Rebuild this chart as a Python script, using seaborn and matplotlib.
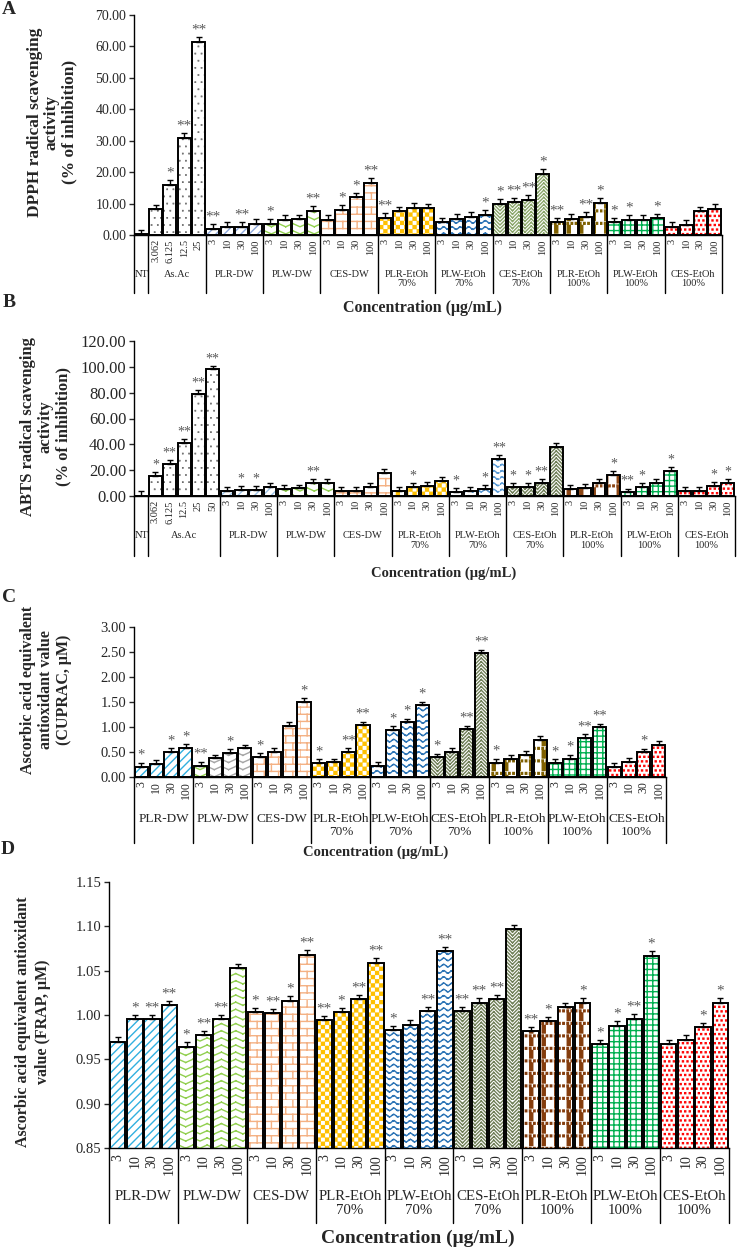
import warnings
warnings.filterwarnings("ignore")
import numpy as np
import pandas as pd
import matplotlib
matplotlib.use("Agg")
import matplotlib.pyplot as plt
import matplotlib.hatch as mhatch
import matplotlib.transforms as mtrans
from matplotlib.path import Path
from matplotlib.patches import Rectangle
import seaborn as sns

# ------------------------------------------------------------------ data
conc = ["3", "10", "30", "100"]
extracts = ["PLR-DW", "PLW-DW", "CES-DW", "PLR-EtOh\n70%", "PLW-EtOh\n70%",
            "CES-EtOh\n70%", "PLR-EtOh\n100%", "PLW-EtOh\n100%", "CES-EtOh\n100%"]
asac_conc_A = ["3.062", "6.125", "12.5", "25"]
asac_conc_B = ["3.062", "6.125", "12.5", "25", "50"]

# Panel A : DPPH (% inhibition)
dpph_nt = [0.2]
dpph_nt_err = [1.4]
dpph_asac = [8.2, 15.9, 31.0, 61.3]
dpph_asac_err = [1.5, 1.5, 1.5, 1.6]
dpph_ext = [1.8, 2.4, 2.4, 3.4,
            3.4, 4.8, 5.0, 7.7,
            4.8, 8.0, 12.0, 16.6,
            5.5, 7.5, 8.6, 8.6,
            4.1, 5.2, 5.8, 6.3,
            9.9, 10.4, 11.0, 19.5,
            4.0, 5.0, 5.8, 10.2,
            4.0, 4.8, 4.8, 5.3,
            2.7, 3.3, 7.5, 8.4]
dpph_ext_err = [1.6, 1.6, 1.6, 1.7,
                1.6, 1.6, 1.5, 1.6,
                1.5, 1.5, 1.5, 1.4,
                1.4, 1.4, 1.5, 1.4,
                1.4, 1.4, 1.4, 1.5,
                1.5, 1.4, 1.6, 1.4,
                1.5, 1.6, 1.5, 1.6,
                1.5, 1.5, 1.6, 1.5,
                1.4, 1.5, 1.5, 1.5]
dpph_stars = ([""] + ["", "*", "**", "**"] +
              ["**", "", "**", ""] + ["*", "", "", "**"] + ["", "*", "*", "**"] +
              ["**", "", "", ""] + ["", "", "", "*"] + ["*", "**", "**", "*"] +
              ["**", "", "**", "*"] + ["*", "*", "", "*"] + ["", "", "", ""])

# Panel B : ABTS (% inhibition)
abts_nt = [0.3]
abts_nt_err = [3.2]
abts_asac = [15.5, 24.5, 41.3, 79.2, 98.1]
abts_asac_err = [3.3, 3.2, 3.0, 2.9, 2.8]
abts_ext = [4.1, 4.9, 4.9, 7.2,
            5.7, 5.9, 9.8, 10.3,
            3.6, 4.1, 7.2, 18.1,
            3.6, 6.7, 8.0, 11.6,
            3.1, 3.6, 5.7, 28.4,
            6.7, 6.7, 10.1, 37.7,
            5.7, 6.5, 9.8, 16.0,
            2.8, 7.0, 9.8, 19.4,
            3.6, 4.1, 8.0, 10.1]
abts_ext_err = [3.0] * 36
abts_stars = ([""] + ["*", "**", "**", "**", "**"] +
              ["", "*", "*", ""] + ["", "", "**", ""] + ["", "", "", ""] +
              ["", "*", "", ""] + ["*", "", "*", "**"] + ["*", "*", "**", ""] +
              ["", "", "", "*"] + ["**", "*", "", "*"] + ["", "", "*", "*"])

# Panel C : CUPRAC (uM)
cuprac = [0.21, 0.27, 0.51, 0.59,
          0.23, 0.38, 0.48, 0.58,
          0.40, 0.51, 1.03, 1.51,
          0.28, 0.30, 0.51, 1.04,
          0.23, 0.95, 1.10, 1.44,
          0.40, 0.51, 0.96, 2.48,
          0.29, 0.37, 0.45, 0.75,
          0.29, 0.37, 0.79, 1.00,
          0.21, 0.31, 0.50, 0.65]
cuprac_err = [0.08, 0.08, 0.07, 0.07,
              0.08, 0.07, 0.08, 0.07,
              0.08, 0.07, 0.07, 0.07,
              0.08, 0.07, 0.07, 0.07,
              0.07, 0.07, 0.07, 0.07,
              0.07, 0.07, 0.07, 0.07,
              0.08, 0.07, 0.07, 0.07,
              0.07, 0.08, 0.07, 0.07,
              0.07, 0.07, 0.07, 0.07]
cuprac_stars = (["*", "", "*", "*"] + ["**", "", "*", ""] + ["*", "", "", "*"] +
                ["*", "", "**", "**"] + ["", "*", "*", "*"] + ["*", "", "**", "**"] +
                ["*", "", "", ""] + ["*", "*", "**", "**"] + ["", "", "*", ""])

# Panel D : FRAP (uM)
frap = [0.970, 0.995, 0.995, 1.011,
        0.964, 0.977, 0.995, 1.053,
        1.003, 1.002, 1.016, 1.068,
        0.994, 1.003, 1.018, 1.059,
        0.983, 0.989, 1.004, 1.072,
        1.004, 1.014, 1.018, 1.097,
        0.982, 0.993, 1.009, 1.014,
        0.967, 0.988, 0.996, 1.067,
        0.967, 0.972, 0.986, 1.014]
frap_err = [0.005] * 36
frap_stars = (["", "*", "**", "**"] + ["*", "**", "**", ""] + ["*", "**", "*", "**"] +
              ["**", "*", "**", "**"] + ["*", "", "**", "**"] + ["**", "**", "**", ""] +
              ["**", "*", "", "*"] + ["*", "*", "**", "*"] + ["", "", "*", "*"])

# ------------------------------------------------------------------ style
sns.set_style("ticks")
plt.rcParams["font.family"] = ["Liberation Serif", "DejaVu Serif"]
plt.rcParams["hatch.linewidth"] = 1.0
plt.rcParams["axes.linewidth"] = 1.0


# custom hatch patterns (unit tile = 1 inch)
def _seg(x0, y0, x1, y1):
    return (np.array([[x0, y0], [x1, y1]], float), False)


def _rect(x0, y0, x1, y1):
    return (np.array([[x0, y0], [x1, y0], [x1, y1], [x0, y1]], float), True)


def _zigzag():
    out, n = [], 14
    a = 0.45 / n
    for r in range(n):
        y = (r + 0.25) / n
        for k in range(n):
            y0 = y + (a if k % 2 else 0)
            y1 = y + (0 if k % 2 else a)
            out.append(_seg(k / n, y0, (k + 1) / n, y1))
    return out


def _brick():
    out, n = [], 14
    for r in range(n):
        y0, y1 = r / n, (r + 1) / n
        out.append(_seg(0, y0, 1, y0))
        for j in range(7):
            x = (j + 0.5 * (r % 2)) / 7
            out.append(_seg(x, y0, x, y1))
    return out


def _checker():
    n, d = 24, 0.006
    return [_rect(i / n + d, j / n + d, (i + 1) / n - d, (j + 1) / n - d)
            for i in range(n) for j in range(n) if (i + j) % 2 == 0]


def _waves():
    out = []
    rows, per, amp, m = 16, 12, 0.012, 8
    xs = np.linspace(0, 1, per * m + 1)
    for r in range(rows):
        ys = (r + 0.5) / rows + amp * np.sin(2 * np.pi * per * xs)
        for k in range(len(xs) - 1):
            if k % 4 != 3:
                out.append(_seg(xs[k], ys[k], xs[k + 1], ys[k + 1]))
    return out


def _herring():
    out = []
    cols, s = 16, 1 / 28
    w = 1 / cols
    for c in range(cols):
        x0 = c * w
        for k in range(-2, 28):
            y = k * s
            if c % 2 == 0:
                out.append(_seg(x0, y, x0 + w, y + w))
            else:
                out.append(_seg(x0, y + w, x0 + w, y))
    return out


def _plaid():
    out, n = [], 8
    c = 1 / n
    for i in range(n):
        for j in range(n):
            x0, y0 = i * c, j * c
            out.append(_rect(x0 + 0.38 * c, y0 + 0.36 * c, x0 + 0.62 * c, y0 + 0.96 * c))
            for q in range(3):
                out.append(_rect(x0 + (2 * q + 0.15) * c / 6, y0 + 0.06 * c,
                                 x0 + (2 * q + 0.85) * c / 6, y0 + 0.2 * c))
    return out


def _dots(n, m, s):
    out = []
    for j in range(m):
        for i in range(n):
            x = (i + 0.5 * (j % 2) + 0.25) / n
            y = (j + 0.5) / m
            out.append(_rect(x - s, y - s, x + s, y + s))
    return out


_BUILDERS = {"z": _zigzag, "k": _brick, "c": _checker, "w": _waves,
             "h": _herring, "p": _plaid,
             "r": lambda: _dots(22, 22, 0.005),
             "d": lambda: _dots(16, 14, 0.0015)}
_CACHE = {}


class _CustomHatch(mhatch.HatchPatternBase):
    def __init__(self, hatch, density):
        self.segs = []
        for ch, fn in _BUILDERS.items():
            if ch in hatch:
                if ch not in _CACHE:
                    _CACHE[ch] = fn()
                self.segs.extend(_CACHE[ch])
        self.num_vertices = sum(len(v) + (1 if cl else 0) for v, cl in self.segs)

    def set_vertices_and_codes(self, vertices, codes):
        i = 0
        for v, closed in self.segs:
            n = len(v)
            vertices[i:i + n] = v
            codes[i] = Path.MOVETO
            codes[i + 1:i + n] = Path.LINETO
            i += n
            if closed:
                vertices[i] = v[0]
                codes[i] = Path.CLOSEPOLY
                i += 1


mhatch._hatch_types.append(_CustomHatch)

PATTERNS = ["////", "z", "k", "c", "w", "h", "p", "+++", "r"]
COLORS_A = ["#8EA9DB", "#92D050", "#F4B183", "#FFC000", "#2E75B6",
            "#8AA66A", "#7F6000", "#00B050", "#FF0000"]
COLORS_B = ["#9DC3E6", "#92D050", "#F4B183", "#FFC000", "#5B9BD5",
            "#6F7F57", "#8B4513", "#00B050", "#FF0000"]
COLORS_C = ["#31B0E0", "#A6A6A6", "#F4B183", "#FFC000", "#2E75B6",
            "#6F7F57", "#7F6000", "#00B050", "#FF0000"]
COLORS_D = ["#31B0E0", "#92D050", "#F4B183", "#FFC000", "#2E75B6",
            "#6F7F57", "#843C0C", "#00B050", "#FF0000"]


def ext_styles(colors):
    st = []
    for col, pat in zip(colors, PATTERNS):
        st += [("white", pat, col)] * 4
    return st


FW, FH = 738, 1250
fig = plt.figure(figsize=(FW / 100, FH / 100), dpi=100)


def add_ax(left, top, right, bottom):
    return fig.add_axes([left / FW, 1 - bottom / FH, (right - left) / FW, (bottom - top) / FH])


def draw_panel(ax, bar_labels, values, errs, stars, styles, groups, ylim, yticks,
               ytick_fs, xtick_fs, xtick_pad, cat_fs, cat_off, cat_ls, sep_len, star_fs):
    ids = [f"b{i}" for i in range(len(values))]
    df = pd.DataFrame({"bar": ids, "value": values})
    sns.barplot(data=df, x="bar", y="value", order=ids, color="white", width=0.9,
                saturation=1, errorbar=None, ax=ax)
    bars = list(ax.patches)
    centers = [b.get_x() + b.get_width() / 2 for b in bars]
    for b, (face, hatch, hcol) in zip(bars, styles):
        b.set_facecolor(face)
        b.set_edgecolor(hcol)
        b.set_linewidth(0)
        b.set_hatch(hatch)
        ax.add_patch(Rectangle(b.get_xy(), b.get_width(), b.get_height(), fill=False,
                               ec="black", lw=1.4, zorder=b.get_zorder() + 0.5))
    ax.errorbar(centers, values, yerr=[np.zeros(len(errs)), errs], fmt="none",
                ecolor="black", elinewidth=1.0, capsize=2.5, capthick=1.0, zorder=3)
    for c, v, e, s in zip(centers, values, errs, stars):
        if s:
            ax.annotate(s, (c, v + e), xytext=(0, 2.5), textcoords="offset points",
                        ha="center", va="baseline", fontsize=star_fs, color="#595959")
    n = len(values)
    ax.set_xlim(-0.5, n - 0.5)
    ax.set_ylim(*ylim)
    ax.set_yticks(yticks)
    ax.set_yticklabels([f"{t:.2f}" for t in yticks], fontsize=ytick_fs)
    ax.set_xticks(centers)
    ax.set_xticklabels(bar_labels, rotation=90, fontsize=xtick_fs)
    ax.tick_params(axis="x", length=0, pad=xtick_pad)
    ax.tick_params(axis="y", length=3.5, width=1.0, direction="out", pad=2)
    ax.set_xlabel("")
    ax.set_ylabel("")
    sns.despine(ax=ax)
    for sp in ("left", "bottom"):
        ax.spines[sp].set_color("black")
    trans = mtrans.blended_transform_factory(ax.transData, ax.transAxes)
    h_px = ax.get_position().height * FH
    start = 0
    bounds = [-0.5]
    for name, cnt in groups:
        mid = start + (cnt - 1) / 2
        ax.text(mid, -cat_off / h_px, name, transform=trans, ha="center", va="top",
                fontsize=cat_fs, linespacing=cat_ls, multialignment="center")
        start += cnt
        bounds.append(start - 0.5)
    for bx in bounds:
        ax.plot([bx, bx], [0, -sep_len / h_px], transform=trans, color="black",
                lw=1.0, clip_on=False)


ext_groups = [(e, 4) for e in extracts]
ext_ticks = conc * 9

# Panel A
axA = add_ax(134, 15, 722, 235)
stylesA = [("white", None, "black")] + [("white", "d", "#505050")] * 4 + ext_styles(COLORS_A)
draw_panel(axA, [""] + asac_conc_A + ext_ticks, dpph_nt + dpph_asac + dpph_ext,
           dpph_nt_err + dpph_asac_err + dpph_ext_err, dpph_stars, stylesA,
           [("NT", 1), ("As.Ac", 4)] + ext_groups, (0, 70), np.arange(0, 71, 10),
           10, 7.5, 3, 7.5, 35, 1.05, 58, 11)

# Panel B
axB = add_ax(134, 341, 735, 496)
stylesB = [("white", None, "black")] + [("white", "d", "#505050")] * 5 + ext_styles(COLORS_B)
draw_panel(axB, [""] + asac_conc_B + ext_ticks, abts_nt + abts_asac + abts_ext,
           abts_nt_err + abts_asac_err + abts_ext_err, abts_stars, stylesB,
           [("NT", 1), ("As.Ac", 5)] + ext_groups, (0, 120), np.arange(0, 121, 20),
           12, 7.5, 3, 7.5, 35, 1.1, 60, 10)

# Panel C
axC = add_ax(134, 627, 666, 777)
stylesC = ext_styles(COLORS_C)
stylesC[4] = ("white", "z", "#92D050")
for i in (5, 6, 7):
    stylesC[i] = ("white", "z", "#A6A6A6")
draw_panel(axC, ext_ticks, cuprac, cuprac_err, cuprac_stars, stylesC, ext_groups,
           (0, 3), np.arange(0, 3.01, 0.5), 10.5, 8.5, 3, 9.5, 36, 1.15, 66, 10.5)

# Panel D
axD = add_ax(109, 882, 729, 1148)
draw_panel(axD, ext_ticks, frap, frap_err, frap_stars, ext_styles(COLORS_D), ext_groups,
           (0.85, 1.15), np.round(np.arange(0.85, 1.151, 0.05), 2), 10.5, 10, 4.5,
           10.7, 42, 1.15, 75, 11)


def ftext(x, y, s, **kw):
    fig.text(x / FW, 1 - y / FH, s, **kw)


# panel letters
for (x, y, s) in [(9, 9, "A"), (9, 303, "B"), (9, 597, "C"), (8, 850, "D")]:
    ftext(x, y, s, fontsize=14, fontweight="bold", ha="center", va="center")

# y labels
ftext(52, 122, "DPPH radical scavenging\nactivity\n(% of inhibition)", rotation=90,
      fontsize=12.5, fontweight="bold", ha="center", va="center", multialignment="center",
      linespacing=1.1)
ftext(46, 427, "ABTS radical scavenging\nactivity\n(% of inhibition)", rotation=90,
      fontsize=12, fontweight="bold", ha="center", va="center", multialignment="center",
      linespacing=1.15)
ftext(46, 690, "Ascorbic acid equivalent\nantioxidant value\n(CUPRAC, μM)", rotation=90,
      fontsize=11.5, fontweight="bold", ha="center", va="center", multialignment="center",
      linespacing=1.15)
ftext(33, 1022, "Ascorbic acid equivalent antioxidant\nvalue (FRAP, μM)", rotation=90,
      fontsize=11.5, fontweight="bold", ha="center", va="center", multialignment="center",
      linespacing=1.3)

# x labels
ftext(423, 308, "Concentration (μg/mL)", fontsize=11.5, fontweight="bold", ha="center", va="center")
ftext(444, 573, "Concentration (μg/mL)", fontsize=10.5, fontweight="bold", ha="center", va="center")
ftext(376, 852, "Concentration (μg/mL)", fontsize=10.5, fontweight="bold", ha="center", va="center")
ftext(418, 1238, "Concentration (μg/mL)", fontsize=14, fontweight="bold", ha="center", va="center")

fig.savefig("out.png", dpi=100)
